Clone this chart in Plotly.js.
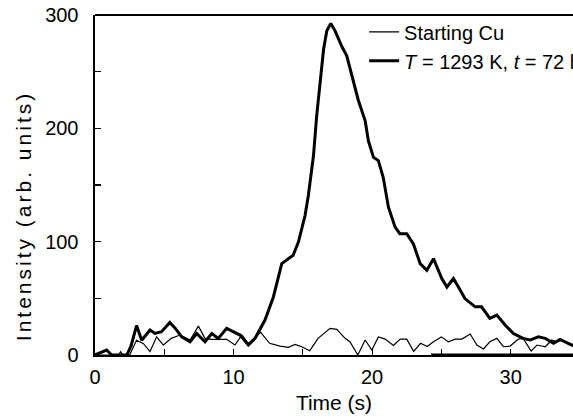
<!DOCTYPE html>
<html>
<head>
<meta charset="utf-8">
<script src="https://cdn.plot.ly/plotly-3.0.1.min.js"></script>
<style>
html,body{margin:0;padding:0;background:#fff;overflow:hidden;width:573px;height:418px;}
#chart{width:610px;height:418px;}
#chart .ytitle{letter-spacing:3px;}
</style>
</head>
<body>
<div id="chart"></div>
<script>
// Starting Cu (thin line)
const startTime = [0,1.7,1.85,2.0,2.5,3.0,3.5,3.97,4.45,4.93,5.5,6.14,6.86,7.46,7.94,8.4,9.5,10.1,10.6,11.07,11.96,12.6,13.36,13.96,14.44,14.92,15.5,16.1,16.97,17.45,18.05,18.4,18.97,19.5,19.98,20.45,20.94,21.54,22.03,22.5,23.0,23.5,23.97,24.43,25.0,25.5,26.0,26.48,27.08,27.56,28.04,28.5,29.0,29.48,29.96,30.56,30.9,31.48,31.9,32.5,32.97,33.33,33.7,34.4];
const startIntensity = [0,0,3,0,0,13,10,3,16,8.8,14.7,17.6,13.2,25.5,14.7,13.8,13.8,8.8,17.6,10.3,20,10.3,7.9,6.8,9.4,7.3,3.8,14.7,23.5,22.6,14.7,11.7,0,13.2,4.4,16,14,8.5,14,14,3.2,10.3,7.5,11.7,16,11.7,14,14,18.5,8.8,5.3,11.7,14.7,7.3,7.9,14,14.7,3.5,8.8,7.3,13.2,11.7,13.2,9.7];

// T = 1293 K, t = 72 h (thick line)
const annealTime = [0,0.4,0.84,1.2,2.0,2.3,2.6,3.0,3.37,3.97,4.33,4.8,5.4,5.8,6.26,6.86,7.34,7.94,8.43,8.9,9.5,10.2,10.47,11.07,11.55,12.27,12.87,13.48,14.3,14.68,15.16,15.4,15.77,16.0,16.25,16.5,16.73,17.02,17.33,17.8,18.17,18.53,19.0,19.5,19.73,20.1,20.45,20.8,21.18,21.66,22.0,22.5,22.98,23.47,23.95,24.43,25.03,25.4,25.87,26.23,26.7,27.44,27.9,28.5,29.0,29.6,30.2,30.9,31.4,32.0,32.5,33.1,33.57,34.4,35];
const annealIntensity = [0,2,4.4,0,0,0,8,26,13,22,19,20.5,28.7,23.5,16,11.7,19,11.7,19,14.7,23.5,19,17.6,8.8,14.7,30.8,51,80.6,88,99.6,123,141,176,211,240,270,286,292.6,286,272.6,264,246,225,206.7,189,174.4,171.5,156.8,130.4,112.8,107,107,98,80.6,74.8,85,67.5,60,67.5,60,49.8,42.5,42.5,32.3,35.2,26.4,19,14.7,13.2,16,14.7,10.3,13.8,8.8,7];

const seriesNames = ["Starting Cu", "<i>T</i> = 1293 K, <i>t</i> = 72 h"];
const xTitle = "Time (s)";
const yTitle = "Intensity (arb. units)";

const FONT = "Liberation Sans, Arial, sans-serif";

const traces = [
  {x: startTime, y: startIntensity, name: seriesNames[0], mode: "lines",
   line: {color: "#000", width: 1.2}},
  {x: annealTime, y: annealIntensity, name: seriesNames[1], mode: "lines",
   line: {color: "#000", width: 3}}
];

// the figure is wider than the window and cropped at 573 px, like the reference
const layout = {
  width: 610, height: 418,
  margin: {l: 95, r: 37, t: 15, b: 63},
  paper_bgcolor: "#fff", plot_bgcolor: "#fff",
  font: {family: FONT, size: 20, color: "#000"},
  showlegend: true,
  legend: {x: 0.563, xanchor: "left", y: 1.008, yanchor: "top",
           bgcolor: "rgba(0,0,0,0)", font: {family: FONT, size: 20, color: "#000"},
           tracegroupgap: 0},
  xaxis: {
    range: [0, 34.5], showgrid: false, zeroline: false,
    showline: true, linecolor: "#000", linewidth: 1.5,
    ticks: "inside", ticklen: 6, tickwidth: 1.2, tickcolor: "#000",
    dtick: 10, tick0: 0, ticklabelstandoff: 3,
    minor: {ticks: "inside", dtick: 5, ticklen: 6, tickwidth: 1.2, tickcolor: "#000", showgrid: false},
    tickfont: {family: FONT, size: 20},
    title: {text: xTitle, font: {family: FONT, size: 21}, standoff: 9}
  },
  yaxis: {
    range: [0, 300], showgrid: false, zeroline: false,
    showline: true, linecolor: "#000", linewidth: 2.5,
    ticks: "inside", ticklen: 6, tickwidth: 1.2, tickcolor: "#000",
    dtick: 100, tick0: 0, ticklabelstandoff: 10,
    minor: {ticks: "inside", dtick: 50, ticklen: 6, tickwidth: 1.2, tickcolor: "#000", showgrid: false},
    tickfont: {family: FONT, size: 20},
    title: {text: yTitle, font: {family: FONT, size: 21}, standoff: 8}
  },
  shapes: [
    {type: "line", xref: "paper", yref: "paper", x0: 0, x1: 1, y0: 1, y1: 1,
     line: {color: "#000", width: 2}},
    {type: "line", xref: "paper", yref: "paper", x0: 0.703, x1: 1, y0: 0, y1: 0,
     line: {color: "#000", width: 3}}
  ]
};

Plotly.newPlot("chart", traces, layout, {staticPlot: true, displayModeBar: false}).then(function (gd) {
  // the original figure's y title sits lower than the plot centre
  const t = gd.querySelector(".ytitle");
  if (t) {
    const x = parseFloat(t.getAttribute("x"));
    t.setAttribute("x", x - 31);
  }
});
</script>
</body>
</html>
